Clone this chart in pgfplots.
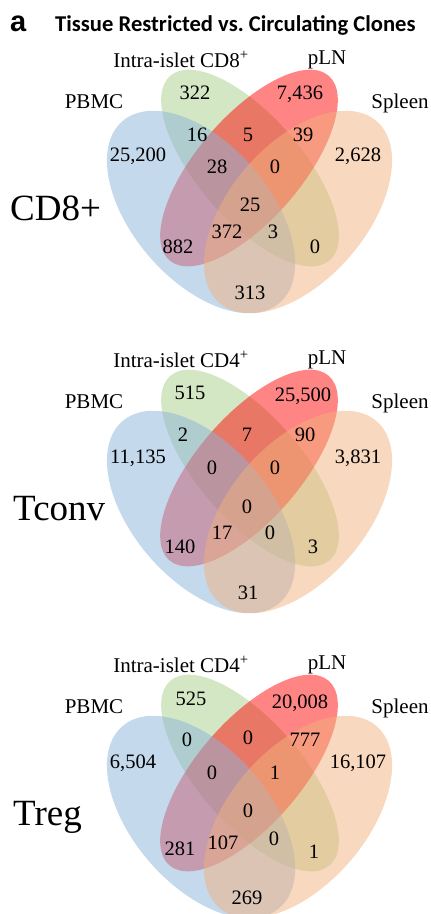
\documentclass[border=0pt]{standalone}
\usepackage{pgfplots}
\pgfplotsset{compat=1.18}
\usepackage{pgfplotstable}
\usepackage{fontspec}
\setmainfont{Liberation Serif}
\newfontfamily\titlefont{Carlito}
\newfontfamily\arialfont{Liberation Sans}

\definecolor{pbmcC}{RGB}{139,179,219}
\definecolor{isletC}{RGB}{169,207,137}
\definecolor{plnC}{RGB}{255,10,10}
\definecolor{spleenC}{RGB}{241,177,125}

% x, y in picture units (y downward), label = clone count
\pgfplotstableread{
x y lab
195 93 322
300 93 7,436
197 135 16
248 135 5
303 135 39
138 155 25,200
358 155 2,628
217 167 28
275 167 0
250 205 25
227 232 372
273 232 3
178 247 882
315 247 0
250 293 313
}\cdeight
\pgfplotstableread{
x y lab
190 393 515
303 395 25,500
183 435 2
247 435 7
305 435 90
138 457 11,135
358 457 3,831
212 468 0
275 468 0
247 507 0
222 533 17
270 533 0
180 547 140
313 547 3
248 593 31
}\tconv
\pgfplotstableread{
x y lab
191 699 525
300 702 20,008
187 740 0
248 738 0
305 740 777
133 762 6,504
358 762 16,107
212 773 0
275 773 1
248 811 0
223 843 107
274 839 0
180 849 281
314 852 1
247 898 269
}\treg

\newcommand{\venn}[1]{%
  \fill[isletC, fill opacity=0.5, rotate around={-49.2:(axis cs:250,168+#1)}] (axis cs:250,168+#1) ellipse [x radius=121.9pt, y radius=51.9pt];
  \fill[plnC, fill opacity=0.5, rotate around={49.2:(axis cs:249,168+#1)}] (axis cs:249,168+#1) ellipse [x radius=121.9pt, y radius=51.9pt];
  \fill[pbmcC, fill opacity=0.5, rotate around={-49.1:(axis cs:201,212+#1)}] (axis cs:201,212+#1) ellipse [x radius=120.1pt, y radius=68.3pt];
  \fill[spleenC, fill opacity=0.5, rotate around={49.1:(axis cs:298,212+#1)}] (axis cs:298,212+#1) ellipse [x radius=120.1pt, y radius=68.3pt];
  \node[anchor=base, inner sep=0pt, font=\fontsize{21}{24}\selectfont] at (axis cs:94,108+#1) {PBMC};
  \node[anchor=base, inner sep=0pt, font=\fontsize{21}{24}\selectfont] at (axis cs:327,64+#1) {pLN};
  \node[anchor=base, inner sep=0pt, font=\fontsize{21}{24}\selectfont] at (axis cs:400,108+#1) {Spleen};
}

\begin{document}
\begin{tikzpicture}
\begin{axis}[
  x=1pt, y=1pt,
  xmin=0, xmax=431, ymin=0, ymax=914,
  y dir=reverse,
  hide axis,
  scale only axis,
  clip=true,
  every node near coord/.append style={anchor=center, inner sep=0pt, text depth=0pt, font=\fontsize{20.5}{24}\selectfont, black},
]
\path (rel axis cs:0,0) rectangle (rel axis cs:1,1);

\venn{0}
\venn{300}
\venn{605}

\node[anchor=base, inner sep=0pt, font=\fontsize{21}{24}\selectfont] at (axis cs:181,67) {Intra-islet CD8\textsuperscript{+}};
\node[anchor=base, inner sep=0pt, font=\fontsize{21}{24}\selectfont] at (axis cs:181,367) {Intra-islet CD4\textsuperscript{+}};
\node[anchor=base, inner sep=0pt, font=\fontsize{21}{24}\selectfont] at (axis cs:181,672) {Intra-islet CD4\textsuperscript{+}};

\node[anchor=base west, inner sep=0pt, font=\fontsize{37}{40}\selectfont] at (axis cs:10,220) {CD8+};
\node[anchor=base west, inner sep=0pt, font=\fontsize{37}{40}\selectfont] at (axis cs:13,520) {Tconv};
\node[anchor=base west, inner sep=0pt, font=\fontsize{37}{40}\selectfont] at (axis cs:13,825) {Treg};

\node[anchor=base west, inner sep=0pt, font=\arialfont\bfseries\fontsize{29}{30}\selectfont] at (axis cs:10,31.5) {a};
\node[anchor=base west, inner sep=0pt, font=\titlefont\bfseries\fontsize{22.6}{26}\selectfont] at (axis cs:55,31.5) {Tissue Restricted vs.\ Circulating Clones};

\addplot[draw=none, mark=none, nodes near coords, point meta=explicit symbolic] table[x=x, y=y, meta=lab] {\cdeight};
\addplot[draw=none, mark=none, nodes near coords, point meta=explicit symbolic] table[x=x, y=y, meta=lab] {\tconv};
\addplot[draw=none, mark=none, nodes near coords, point meta=explicit symbolic] table[x=x, y=y, meta=lab] {\treg};
\end{axis}
\end{tikzpicture}
\end{document}
